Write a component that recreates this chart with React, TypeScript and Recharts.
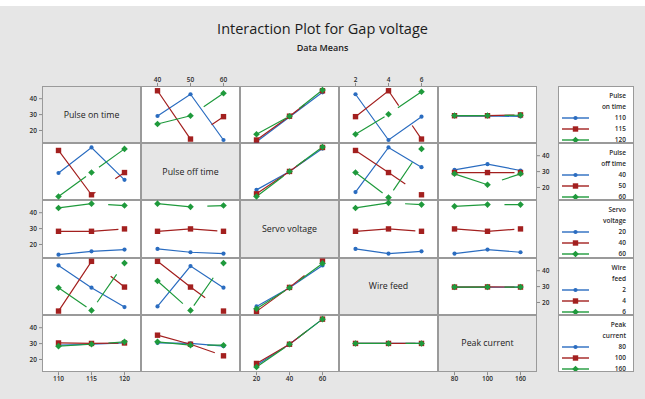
import React from 'react';
import { LineChart, Line, XAxis, YAxis } from 'recharts';

// factor names and levels
const factors = ['Pulse on time', 'Pulse off time', 'Servo voltage', 'Wire feed', 'Peak current'];
const legendTitles = [['Pulse', 'on time'], ['Pulse', 'off time'], ['Servo', 'voltage'], ['Wire', 'feed'], ['Peak', 'current']];
const pulseOnLevels = ['110', '115', '120'];
const pulseOffLevels = ['40', '50', '60'];
const servoLevels = ['20', '40', '60'];
const wireLevels = ['2', '4', '6'];
const peakLevels = ['80', '100', '160'];
const levels = [pulseOnLevels, pulseOffLevels, servoLevels, wireLevels, peakLevels];
const yTicks = [20, 30, 40];

// data means: one array per trace level (low, mid, high) of the row factor,
// values across the levels of the column factor
const onVsOff = [[29.1, 42.8, 14.0], [45.0, 14.6, 28.7], [24.1, 29.3, 43.4]];
const onVsServo = [[12.9, 28.5, 44.0], [14.0, 29.0, 45.0], [17.6, 29.0, 45.5]];
const onVsWire = [[42.8, 14.0, 28.7], [28.7, 45.0, 14.6], [17.6, 30.2, 44.4]];
const onVsPeak = [[29.0, 29.2, 28.8], [29.3, 29.3, 29.8], [29.4, 29.4, 29.6]];

const offVsOn = [[29.1, 45.2, 24.8], [43.3, 15.4, 29.4], [14.3, 29.4, 44.3]];
const offVsServo = [[18.5, 30.1, 44.5], [16.0, 30.1, 45.2], [14.3, 30.1, 45.5]];
const offVsWire = [[17.1, 45.2, 32.8], [43.3, 29.4, 15.4], [29.4, 13.7, 44.3]];
const offVsPeak = [[31.1, 34.7, 30.7], [29.4, 29.4, 29.4], [28.6, 21.7, 28.6]];

const servoVsOn = [[13.6, 15.7, 16.8], [28.3, 28.3, 29.8], [43.0, 45.7, 44.5]];
const servoVsOff = [[17.2, 15.1, 14.3], [28.3, 29.8, 28.3], [45.7, 43.7, 44.5]];
const servoVsWire = [[17.2, 14.3, 15.7], [28.3, 29.8, 28.3], [43.0, 46.2, 45.1]];
const servoVsPeak = [[14.3, 16.8, 15.1], [29.8, 28.3, 29.8], [44.0, 45.1, 45.1]];

const wireVsOn = [[43.3, 29.3, 17.1], [14.6, 45.9, 29.7], [29.3, 15.0, 44.8]];
const wireVsOff = [[17.5, 42.9, 29.3], [45.9, 29.7, 14.6], [33.5, 15.0, 44.8]];
const wireVsServo = [[17.5, 29.3, 43.3], [14.4, 29.5, 46.0], [16.1, 29.3, 44.6]];
const wireVsPeak = [[29.7, 29.6, 29.7], [29.7, 29.8, 29.7], [29.7, 29.7, 29.7]];

const peakVsOn = [[29.0, 29.6, 30.4], [30.4, 30.1, 30.4], [28.4, 29.6, 31.1]];
const peakVsOff = [[30.4, 30.1, 28.4], [35.3, 29.6, 22.3], [31.1, 29.0, 29.0]];
const peakVsServo = [[16.4, 29.6, 45.4], [17.5, 29.6, 45.4], [15.3, 29.6, 45.4]];
const peakVsWire = [[30.1, 30.1, 30.1], [30.1, 30.1, 30.1], [30.1, 30.1, 30.1]];

const panels: (number[][] | null)[][] = [
  [null, onVsOff, onVsServo, onVsWire, onVsPeak],
  [offVsOn, null, offVsServo, offVsWire, offVsPeak],
  [servoVsOn, servoVsOff, null, servoVsWire, servoVsPeak],
  [wireVsOn, wireVsOff, wireVsServo, null, wireVsPeak],
  [peakVsOn, peakVsOff, peakVsServo, peakVsWire, null],
];

// layout
const GRID_X = 42;
const GRID_Y = 86;
const CELL_W = 99;
const CELL_H = 57.2;
const AX_W = 22;
const AX_H = 13;
const LEG_X = 558;
const LEG_W = 76;

const BLUE = '#2a6cc0';
const RED = '#a3201f';
const GREEN = '#1f9a3c';
const BORDER = '#9a9a9a';
const BG = '#e6e6e6';
const FONT = '"Open Sans", sans-serif';

const colors = [BLUE, RED, GREEN];
const dashes = [undefined, '60 24', '34 16'];

const BlueDot = (p: any) => (p.cx == null ? null : <circle cx={p.cx} cy={p.cy} r={2.1} fill={BLUE} />);
const RedDot = (p: any) => (p.cx == null ? null : <rect x={p.cx - 2.7} y={p.cy - 2.7} width={5.4} height={5.4} fill={RED} />);
const GreenDot = (p: any) =>
  p.cx == null ? null : (
    <path d={`M${p.cx},${p.cy - 3.3}L${p.cx + 3.3},${p.cy}L${p.cx},${p.cy + 3.3}L${p.cx - 3.3},${p.cy}Z`} fill={GREEN} />
  );
const dots = [BlueDot, RedDot, GreenDot];

const tickStyle = { fontSize: 6.5, fill: '#2b2b2b', fontFamily: FONT, fontWeight: 600 };

function Panel({ r, c }: { r: number; c: number }) {
  const left = c === 0 && r % 2 === 0;
  const right = c === 4 && r % 2 === 1;
  const top = r === 0 && c % 2 === 1;
  const bottom = r === 4 && c % 2 === 0;
  const w = CELL_W + (left ? AX_W : 0) + (right ? AX_W : 0);
  const h = CELL_H + (top ? AX_H : 0) + (bottom ? AX_H : 0);
  const series = panels[r][c];
  const rows = [0, 1, 2].map((i) => ({
    x: i + 1,
    s0: series ? series[0][i] : null,
    s1: series ? series[1][i] : null,
    s2: series ? series[2][i] : null,
  }));
  const lv = levels[c];
  return (
    <div
      style={{
        position: 'absolute',
        left: GRID_X + c * CELL_W - (left ? AX_W : 0),
        top: GRID_Y + r * CELL_H - (top ? AX_H : 0),
      }}
    >
      <LineChart width={w} height={h} data={rows} margin={{ top: 0, right: 0, bottom: 0, left: 0 }}>
        <XAxis
          type="number"
          dataKey="x"
          domain={[0.5, 3.5]}
          ticks={[1, 2, 3]}
          allowDataOverflow
          hide={!top && !bottom}
          orientation={top ? 'top' : 'bottom'}
          height={AX_H}
          axisLine={false}
          tickSize={3}
          tickMargin={1}
          tickLine={{ stroke: '#8a8a8a' }}
          tick={tickStyle}
          tickFormatter={(v: number) => lv[v - 1]}
        />
        <YAxis
          type="number"
          domain={[12, 48]}
          ticks={yTicks}
          allowDataOverflow
          hide={!left && !right}
          orientation={right ? 'right' : 'left'}
          width={AX_W}
          axisLine={false}
          tickSize={3}
          tickMargin={2}
          tickLine={{ stroke: '#8a8a8a' }}
          tick={tickStyle}
        />
        {series &&
          [0, 1, 2].map((k) => (
            <Line
              key={k}
              type="linear"
              dataKey={`s${k}`}
              stroke={colors[k]}
              strokeWidth={1.2}
              strokeDasharray={dashes[k]}
              dot={dots[k]}
              activeDot={false}
              isAnimationActive={false}
            />
          ))}
      </LineChart>
    </div>
  );
}

function LegendBox({ r }: { r: number }) {
  const tx = LEG_W - 8;
  return (
    <div
      style={{
        position: 'absolute',
        left: LEG_X,
        top: GRID_Y + r * CELL_H,
        width: LEG_W,
        height: CELL_H,
        background: '#fff',
        border: `1px solid ${BORDER}`,
        boxSizing: 'border-box',
        overflow: 'hidden',
      }}
    >
      <svg width={LEG_W} height={CELL_H} style={{ position: 'absolute', left: -1, top: -1 }}>
        {legendTitles[r].map((t, i) => (
          <text key={t} x={tx} y={12 + i * 11} textAnchor="end" fontSize={6.5} fontWeight={600} fontFamily={FONT} fill="#2b2b2b">
            {t}
          </text>
        ))}
        {levels[r].map((lvl, k) => {
          const y = 32 + k * 11;
          const Dot = dots[k];
          return (
            <g key={lvl}>
              <line x1={4} x2={31} y1={y} y2={y} stroke={colors[k]} strokeWidth={1.4} />
              <Dot cx={17.5} cy={y} />
              <text x={tx} y={y + 2.3} textAnchor="end" fontSize={6.5} fontWeight={600} fontFamily={FONT} fill="#2b2b2b">
                {lvl}
              </text>
            </g>
          );
        })}
      </svg>
    </div>
  );
}

export default function App() {
  const cells: JSX.Element[] = [];
  for (let r = 0; r < 5; r++) {
    for (let c = 0; c < 5; c++) {
      cells.push(
        <div
          key={`b${r}${c}`}
          style={{
            position: 'absolute',
            left: GRID_X + c * CELL_W,
            top: GRID_Y + r * CELL_H,
            width: CELL_W,
            height: CELL_H,
            background: r === c ? BG : '#fff',
            border: `1px solid ${BORDER}`,
            boxSizing: 'border-box',
            display: 'flex',
            alignItems: 'center',
            justifyContent: 'center',
            fontFamily: FONT,
            fontSize: 8.8,
            color: '#222',
          }}
        >
          {r === c ? factors[r] : null}
        </div>
      );
    }
  }
  const charts: JSX.Element[] = [];
  for (let r = 0; r < 5; r++) for (let c = 0; c < 5; c++) charts.push(<Panel key={`p${r}${c}`} r={r} c={c} />);

  return (
    <div style={{ position: 'absolute', left: 0, top: 0, width: 645, height: 399, background: '#fff', overflow: 'hidden' }}>
      <div style={{ position: 'absolute', left: 0, top: 6, width: 645, height: 393, background: BG }} />
      <div
        style={{
          position: 'absolute',
          left: 0,
          width: 645,
          top: 20,
          textAlign: 'center',
          fontFamily: FONT,
          fontSize: 14.5,
          color: '#1c1c1c',
          lineHeight: '18px',
        }}
      >
        Interaction Plot for Gap voltage
      </div>
      <div
        style={{
          position: 'absolute',
          left: 0,
          width: 645,
          top: 42,
          textAlign: 'center',
          fontFamily: FONT,
          fontSize: 9,
          fontWeight: 600,
          color: '#1c1c1c',
          lineHeight: '12px',
        }}
      >
        Data Means
      </div>
      {cells}
      {charts}
      {[0, 1, 2, 3, 4].map((r) => (
        <LegendBox key={r} r={r} />
      ))}
    </div>
  );
}
